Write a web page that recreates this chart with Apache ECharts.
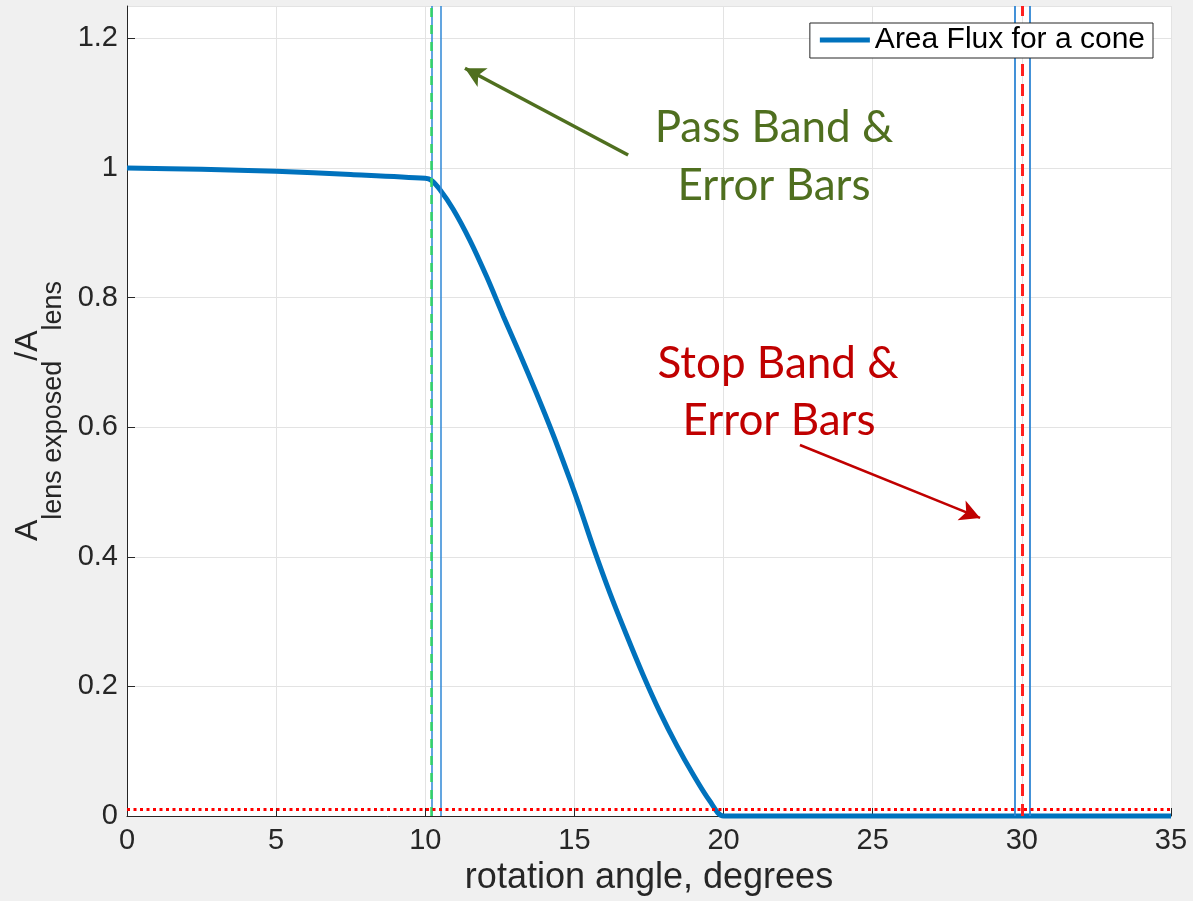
<!DOCTYPE html>
<html>
<head>
<meta charset="utf-8">
<script src="https://cdn.jsdelivr.net/npm/echarts@6/dist/echarts.min.js"></script>
<style>html,body{margin:0;padding:0;background:#f0f0f0;}#c{width:1193px;height:901px;}</style>
</head>
<body>
<div id="c"></div>
<script>
// ---- data ----
const angleDeg = [0, 2.5, 5, 7.5, 10, 10.2, 10.5, 10.94, 11.5, 12.06, 12.62, 13.17, 13.73, 14.29, 14.85, 15.19, 15.63, 16.19, 16.75, 17.31, 17.87, 18.43, 18.98, 19.54, 20, 25, 30, 35];
const areaFlux = [1.0, 0.998, 0.995, 0.99, 0.984, 0.981, 0.966, 0.936, 0.888, 0.832, 0.771, 0.713, 0.652, 0.588, 0.519, 0.475, 0.415, 0.344, 0.279, 0.217, 0.160, 0.109, 0.064, 0.023, 0, 0, 0, 0];
const passBandLines = [10.2, 10.53];   // blue error bars
const passBandCenter = 10.2;           // green dashed
const stopBandLines = [29.75, 30.25];  // blue error bars
const stopBandCenter = 30;             // red dashed
const thresholdLevel = 0.01;           // red dotted
const xTicks = [0, 5, 10, 15, 20, 25, 30, 35];
const yTicks = [0, 0.2, 0.4, 0.6, 0.8, 1, 1.2];
const passArrow = [[16.8, 1.02], [11.33, 1.154]];
const stopArrow = [[22.56, 0.5725], [28.6, 0.46]];
const seriesName = 'Area Flux for a cone';

const chart = echarts.init(document.getElementById('c'), null, {renderer: 'canvas'});
const axisColor = '#262626';
const gridColor = '#e3e3e3';

const curveData = angleDeg.map((x, i) => [x, areaFlux[i]]);

const option = {
  backgroundColor: '#f0f0f0',
  animation: false,
  grid: {left: 127, right: 22, top: 6, bottom: 85, show: true, backgroundColor: '#ffffff', borderWidth: 0},
  legend: {
    data: [{name: seriesName, icon: 'rect'}],
    right: 40, top: 23, z: 50, zlevel: 1,
    itemWidth: 50, itemHeight: 5, itemGap: 6,
    padding: [2, 8, 3, 10],
    backgroundColor: '#ffffff',
    borderColor: axisColor, borderWidth: 1,
    textStyle: {fontFamily: 'Liberation Sans', fontSize: 30, color: '#000000'}
  },
  xAxis: {
    type: 'value', min: 0, max: 35, interval: 5,
    name: 'rotation angle, degrees', nameLocation: 'middle', nameGap: 42,
    nameTextStyle: {fontFamily: 'Liberation Sans', fontSize: 36, color: axisColor},
    axisLine: {show: true, onZero: false, lineStyle: {color: axisColor, width: 1}},
    axisTick: {show: true, inside: true, length: 8, lineStyle: {color: axisColor}},
    axisLabel: {fontFamily: 'Liberation Sans', fontSize: 29, color: axisColor, margin: 10,
      formatter: v => xTicks.includes(v) ? String(v) : ''},
    splitLine: {show: true, lineStyle: {color: gridColor, width: 1}}
  },
  yAxis: {
    type: 'value', min: 0, max: 1.25, interval: 0.2,
    name: '{a|A}{s|lens exposed}{a|/A}{s|lens}', nameLocation: 'middle', nameGap: 62,
    nameTextStyle: {
      fontFamily: 'Liberation Sans', color: axisColor,
      rich: {
        a: {fontFamily: 'Liberation Sans', fontSize: 32, lineHeight: 32, color: axisColor, verticalAlign: 'top'},
        s: {fontFamily: 'Liberation Sans', fontSize: 27, lineHeight: 27, color: axisColor, verticalAlign: 'top', padding: [28, 0, 0, 0]}
      }
    },
    axisLine: {show: true, lineStyle: {color: axisColor, width: 1}},
    axisTick: {show: true, inside: true, length: 8, lineStyle: {color: axisColor}},
    axisLabel: {fontFamily: 'Liberation Sans', fontSize: 29, color: axisColor, margin: 9,
      showMaxLabel: false,
      formatter: v => yTicks.some(t => Math.abs(t - v) < 1e-9) ? String(Math.round(v * 10) / 10) : ''},
    splitLine: {show: true, lineStyle: {color: gridColor, width: 1}}
  },
  series: [
    {
      name: 'bands', type: 'line', data: [], silent: true, z: 2,
      markLine: {
        silent: true, symbol: ['none', 'none'], animation: false,
        label: {show: false},
        data: [
          ...passBandLines.map(v => ({xAxis: v, lineStyle: {color: '#3b8fd9', width: 1.6, type: 'solid'}})),
          ...stopBandLines.map(v => ({xAxis: v, lineStyle: {color: '#2f86d4', width: 1.8, type: 'solid'}})),
          {xAxis: passBandCenter, lineStyle: {color: '#33d466', width: 2.5, type: [9, 8]}},
          {xAxis: stopBandCenter, lineStyle: {color: '#ff2020', width: 3, type: [12, 8]}},
          {yAxis: thresholdLevel, lineStyle: {color: '#ff0000', width: 3, type: [3, 3.5]}}
        ]
      }
    },
    {
      name: seriesName, type: 'line', data: curveData, z: 3,
      showSymbol: false, symbol: 'none', smooth: 0.3, clip: false,
      itemStyle: {color: '#0072bd'},
      lineStyle: {color: '#0072bd', width: 5}
    },
    {
      name: 'arrows', type: 'line', data: [], silent: true, z: 4,
      markLine: {
        silent: true, animation: false, label: {show: false},
        symbol: ['none', 'arrow'], symbolSize: [16, 20],
        data: [
          [{coord: passArrow[0], lineStyle: {color: '#4f6f1f', width: 3.5, type: 'solid'}}, {coord: passArrow[1]}],
          [{coord: stopArrow[0], lineStyle: {color: '#c00000', width: 2.5, type: 'solid'}}, {coord: stopArrow[1]}]
        ]
      }
    }
  ],
  graphic: [
    {type: 'text', x: 774, y: 128, z: 10, style: {text: 'Pass Band &', fill: '#4f6f1f', font: '44px Lato', textAlign: 'center', textVerticalAlign: 'middle'}},
    {type: 'text', x: 774, y: 186, z: 10, style: {text: 'Error Bars', fill: '#4f6f1f', font: '44px Lato', textAlign: 'center', textVerticalAlign: 'middle'}},
    {type: 'text', x: 778, y: 364, z: 10, style: {text: 'Stop Band &', fill: '#c00000', font: '44px Lato', textAlign: 'center', textVerticalAlign: 'middle'}},
    {type: 'text', x: 779, y: 421, z: 10, style: {text: 'Error Bars', fill: '#c00000', font: '44px Lato', textAlign: 'center', textVerticalAlign: 'middle'}}
  ]
};
chart.setOption(option);
</script>
</body>
</html>
